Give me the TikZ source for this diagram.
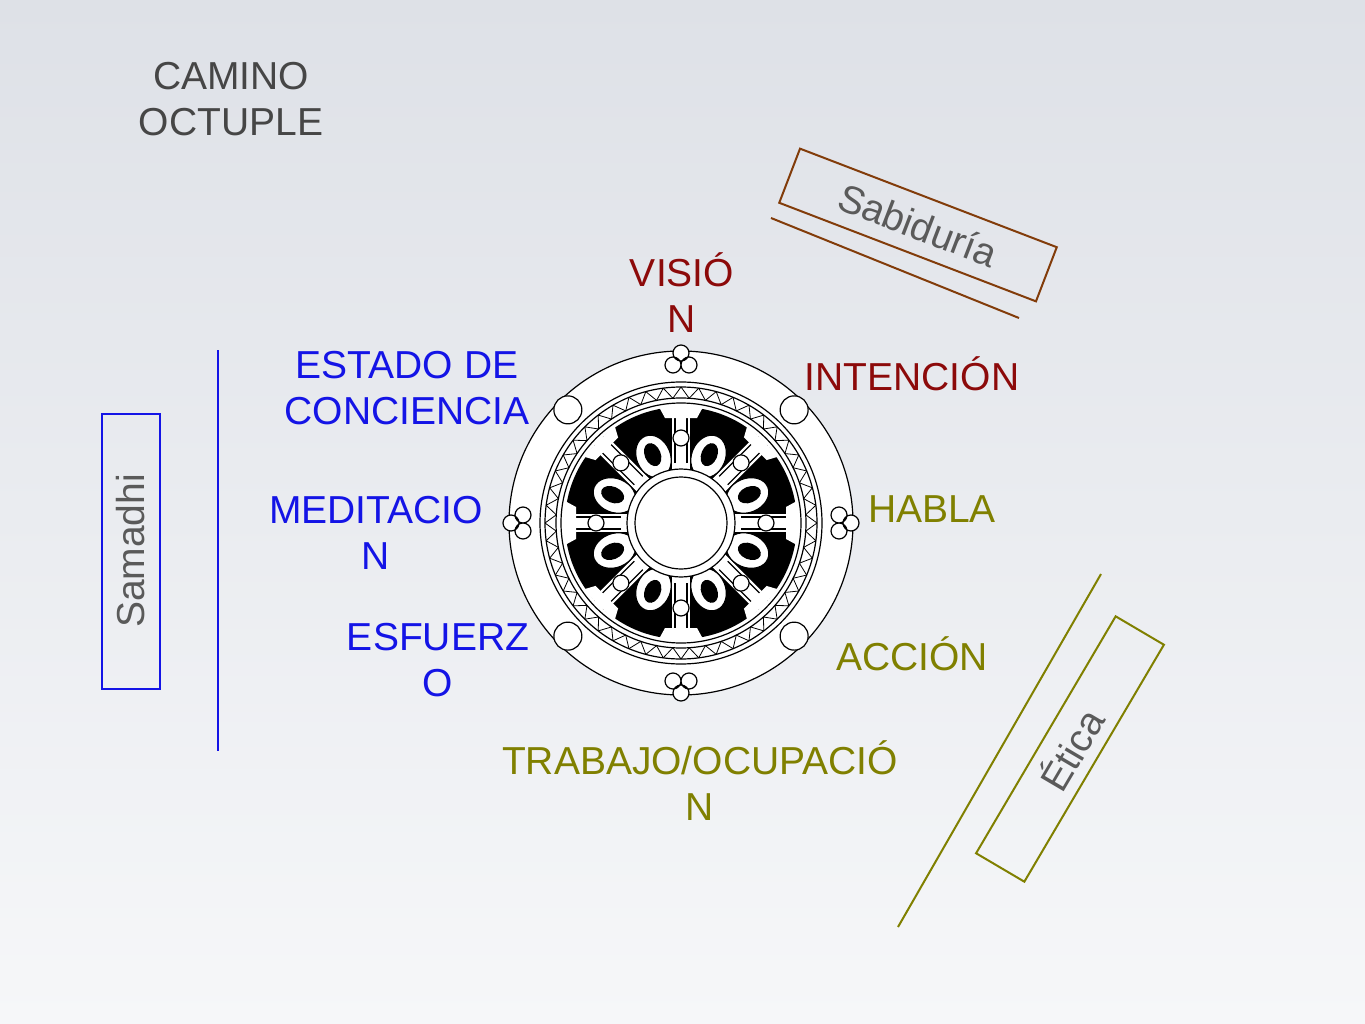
\documentclass[tikz,border=0pt]{standalone}
\usepackage{fontspec}
\setmainfont{Liberation Sans}
\begin{document}
\begin{tikzpicture}[x=1pt,y=-1pt,
  lab/.style={font=\fontsize{39}{46}\selectfont,align=center,inner sep=0pt},
  wl/.style={line width=1.2pt},
  tred/.style={text={rgb,255:red,140;green,10;blue,10}},
  tolv/.style={text={rgb,255:red,128;green,128;blue,0}},
  tblu/.style={text={rgb,255:red,20;green,20;blue,230}},
  boxtxt/.style={lab,text={rgb,255:red,90;green,90;blue,90},line width=2pt}]
\definecolor{dred}{RGB}{140,10,10}
\definecolor{colv}{RGB}{128,128,0}
\definecolor{cblu}{RGB}{20,20,230}
\definecolor{brn}{RGB}{130,60,10}
\shade[top color={rgb,255:red,222;green,225;blue,231},bottom color={rgb,255:red,246;green,247;blue,249}] (0,0) rectangle (1365,1024);
\useasboundingbox (0,0) rectangle (1365,1024);
% wheel
\begin{scope}[shift={(681,523)}]
 \draw[wl,fill=white] (0,0) circle (172);
 \draw[wl] (0,0) circle (141);
 \draw[wl] (0,0) circle (136);
 \foreach \a in {0,7.5,...,352.5}{
   \draw[line width=0.8pt] (\a:136) -- (\a+3.75:125) -- (\a+7.5:136);}
 \draw[wl] (0,0) circle (125);
 \draw[wl] (0,0) circle (120);
 \fill[black,even odd rule] (0,0) circle (116) (0,0) circle (50);
 \foreach \a in {0,45,...,315}{
   \begin{scope}[rotate=\a]
   \fill[white] (50,-9) rectangle (117,9);
   \draw[wl] (60,-6) -- (116,-6) (60,6) -- (116,6);
   \fill[white] (105,-16) -- (116,-22) -- (116,22) -- (105,16) -- cycle;
   \draw[wl,fill=white] (85,0) circle (8);
   \end{scope}}
 \foreach \a in {22.5,67.5,...,337.5}{
   \begin{scope}[rotate=\a]
   \draw[wl,fill=white] (72,0) ellipse (22 and 17);
   \fill[black] (74,0) ellipse (12 and 8);
   \end{scope}}
 \draw[wl,fill=white] (0,0) circle (54);
 \draw[wl] (0,0) circle (46);
 \foreach \a in {45,135,225,315}{\draw[wl,fill=white] (\a:160) circle (14);}
 \foreach \a in {0,90,180,270}{
   \begin{scope}[rotate=\a]
   \draw[wl,fill=white] (158,-8) circle (8) (158,8) circle (8) (170,0) circle (8);
   \end{scope}}
\end{scope}
% texts
\node[lab,text={rgb,255:red,70;green,70;blue,70}] (title) at (231,99) {CAMINO\\OCTUPLE};
\node[lab,tred] (vis) at (682,293) {VISIÓ\\N};
\node[lab,tred] (int) at (912,374) {INTENCIÓN};
\node[lab,tolv] (hab) at (932,509) {HABLA};
\node[lab,tolv] (acc) at (912,654) {ACCIÓN};
\node[lab,tolv] (tra) at (700,781) {TRABAJO/OCUPACIÓ\\N};
\node[lab,tblu] (esf) at (438,660) {ESFUERZ\\O};
\node[lab,tblu] (med) at (376,533) {MEDITACIO\\N};
\node[lab,tblu] (est) at (407,388) {ESTADO DE\\CONCIENCIA};
% boxes
\node[boxtxt,draw=brn,minimum width=275pt,minimum height=58pt,rotate=-21] (sab) at (918,225) {Sabiduría};
\draw[draw=brn,line width=2pt] (771,218) -- (1019,318);
\node[boxtxt,draw=cblu,minimum width=275pt,minimum height=58pt,rotate=90] (sam) at (131,551) {Samadhi};
\draw[draw=cblu,line width=2pt] (218,350) -- (218,751);
\node[boxtxt,draw=colv,minimum width=275pt,minimum height=56pt,rotate=59.5] (eti) at (1070,749) {Ética};
\draw[draw=colv,line width=2pt] (898,927) -- (1101,574);
\end{tikzpicture}
\end{document}
